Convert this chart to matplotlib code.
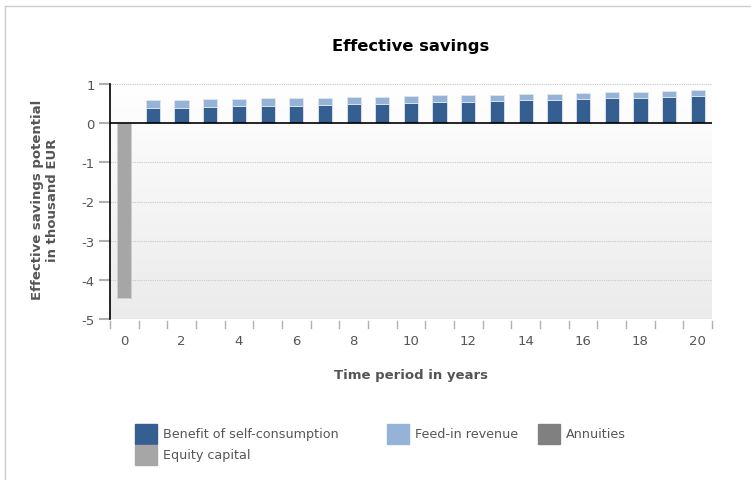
import numpy as np
import matplotlib.pyplot as plt
from matplotlib.patches import Rectangle
from matplotlib.lines import Line2D
from matplotlib.colors import LinearSegmentedColormap

plt.rcParams['axes.unicode_minus'] = False

years = list(range(21))
self_consumption = [0, 0.40, 0.40, 0.42, 0.43, 0.45, 0.45, 0.47, 0.48, 0.50, 0.52,
                    0.53, 0.55, 0.57, 0.58, 0.60, 0.62, 0.63, 0.65, 0.67, 0.69]
feed_in = [0, 0.19, 0.19, 0.20, 0.19, 0.18, 0.19, 0.17, 0.18, 0.18, 0.17,
           0.18, 0.16, 0.15, 0.16, 0.15, 0.15, 0.16, 0.15, 0.15, 0.15]
annuities = [0] * 21
equity = [-4.47] + [0] * 20

labels = ['Benefit of self-consumption', 'Feed-in revenue', 'Annuities', 'Equity capital']
colors = ['#355f91', '#95b3d7', '#808080', '#a6a6a6']
grey_text = '#555555'

W, H = 751, 481
fig = plt.figure(figsize=(W / 100, H / 100), dpi=100)
ax = fig.add_axes([110 / W, 1 - 320 / H, 602 / W, 235 / H])

# background gradient, white at the top to light grey at the bottom
grad = np.linspace(0, 1, 256).reshape(-1, 1)
cmap = LinearSegmentedColormap.from_list('bg', ['#ffffff', '#ebebeb'])
ax.imshow(grad, extent=(-0.5, 20.5, -5, 1), origin='upper', aspect='auto',
          cmap=cmap, zorder=0)

ax.set_xlim(-0.5, 20.5)
ax.set_ylim(-5, 1)

x = np.array(years)
bw = 0.5
ax.bar(x, self_consumption, width=bw, color=colors[0], edgecolor='#dfe6ee', linewidth=0.6, zorder=3)
ax.bar(x, feed_in, width=bw, bottom=self_consumption, color=colors[1],
       edgecolor='#dfe6ee', linewidth=0.6, zorder=3)
ax.bar(x, annuities, width=bw, color=colors[2], zorder=3)
ax.bar(x, equity, width=bw, color=colors[3], edgecolor='#d0d0d0', linewidth=0.6, zorder=3)

for yv in range(-5, 2):
    if yv != 0:
        ax.axhline(yv, color='#c8c8c8', lw=0.8, ls=(0, (1, 1)), zorder=1)
ax.axhline(0, color='black', lw=1.2, zorder=4)

for s in ['top', 'right', 'bottom']:
    ax.spines[s].set_visible(False)
ax.spines['left'].set_color('black')
ax.spines['left'].set_linewidth(1.2)

ax.set_yticks(range(-5, 2))
ax.tick_params(axis='y', length=8, color='#b0b0b0', width=1.5, labelcolor=grey_text,
               labelsize=9.5, pad=3)
ax.set_xticks(range(0, 21, 2))
ax.tick_params(axis='x', length=0, labelcolor=grey_text, labelsize=9.5, pad=11)
# category boundary ticks below the plot
for b in np.arange(-0.5, 21, 1):
    ax.add_line(Line2D([b, b], [-5.05, -5.22], color='#b0b0b0', lw=1.0,
                       transform=ax.transData, clip_on=False))

fig.text(411 / W, 1 - 47 / H, 'Effective savings', ha='center', va='center',
         fontsize=11.8, fontweight='bold', color='black')
fig.text(411 / W, 1 - 376 / H, 'Time period in years', ha='center', va='center',
         fontsize=9.5, fontweight='bold', color=grey_text)
fig.text(45 / W, 1 - 200 / H, 'Effective savings potential\nin thousand EUR', ha='center',
         va='center', rotation=90, fontsize=9.5, fontweight='bold', color=grey_text,
         linespacing=1.2)

# legend
legend_pos = [(135, 425), (387, 425), (538, 425), (135, 446)]
for (lx, ly), lab, col in zip(legend_pos, labels, colors):
    fig.add_artist(Rectangle((lx / W, 1 - (ly + 20) / H), 22 / W, 20 / H,
                             transform=fig.transFigure, color=col))
    fig.text((lx + 28) / W, 1 - (ly + 10) / H, lab, ha='left', va='center',
             fontsize=9.2, color=grey_text)

# outer frame
fig.add_artist(Line2D([5 / W, 1], [1 - 7 / H, 1 - 7 / H], transform=fig.transFigure,
                      color='#cccccc', lw=1))
fig.add_artist(Line2D([5 / W, 5 / W], [0, 1 - 7 / H], transform=fig.transFigure,
                      color='#cccccc', lw=1))

fig.savefig('out.png', dpi=100)
